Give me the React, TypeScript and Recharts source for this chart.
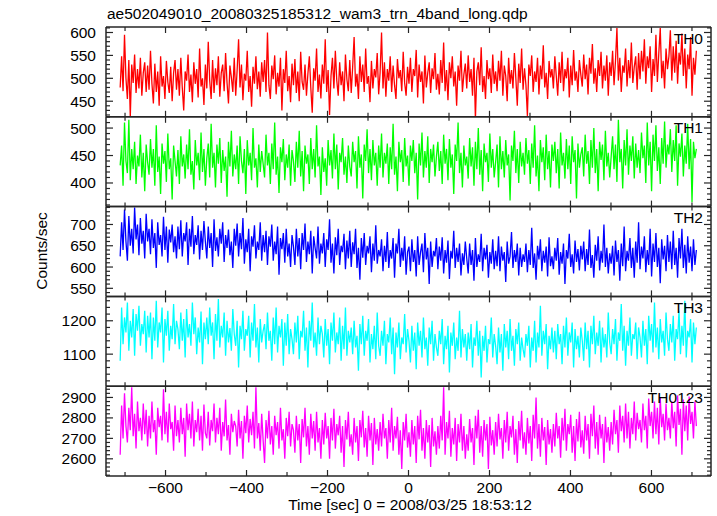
import React from 'react';
import { LineChart, Line, XAxis, YAxis } from 'recharts';

// Light-curve bins (sec from 2008/03/25 18:53:12)
const START = -712;
const BIN = 3.566;

const TH0 = [
  480, 548, 472, 595, 500, 455, 540, 415, 530, 490, 552, 468, 520, 478, 545, 462, 512, 535, 470, 528,
  475, 560, 488, 445, 532, 470, 515, 440, 548, 482, 505, 455, 538, 492, 468, 525, 450, 512, 540, 475,
  520, 462, 545, 480, 430, 515, 495, 552, 470, 508, 448, 535, 488, 520, 458, 565, 482, 500, 442, 530,
  478, 580, 495, 455, 540, 468, 522, 485, 548, 460, 512, 530, 472, 555, 490, 445, 528, 502, 470, 545,
  462, 518, 585, 480, 530, 452, 510, 495, 560, 470, 505, 438, 525, 488, 548, 476, 515, 460, 535, 492,
  540, 470, 600, 485, 455, 528, 498, 550, 465, 512, 482, 545, 430, 520, 490, 560, 472, 505, 448, 532,
  485, 542, 468, 515, 450, 558, 492, 475, 530, 462, 510, 548, 480, 425, 522, 495, 565, 470, 508, 456,
  530, 488, 585, 470, 518, 420, 505, 545, 478, 560, 495, 462, 535, 485, 515, 450, 552, 498, 472, 540,
  468, 525, 590, 482, 510, 455, 548, 492, 530, 470, 565, 488, 505, 448, 538, 478, 520, 502, 555, 465,
  512, 600, 478, 535, 460, 520, 495, 548, 470, 528, 485, 455, 542, 500, 518, 472, 558, 490, 462, 525,
  488, 545, 470, 520, 505, 562, 458, 530, 492, 515, 445, 550, 480, 512, 535, 468, 522, 498, 555, 475,
  510, 465, 540, 490, 578, 472, 518, 452, 535, 500, 548, 482, 515, 440, 528, 495, 560, 470, 508, 532,
  478, 550, 492, 520, 462, 545, 410, 515, 535, 485, 568, 470, 505, 455, 540, 498, 522, 468, 552, 488,
  515, 472, 538, 495, 560, 462, 528, 505, 450, 545, 488, 518, 478, 555, 500, 440, 532, 490, 565, 475,
  522, 485, 418, 530, 505, 550, 470, 515, 492, 545, 465, 528, 498, 572, 480, 512, 455, 538, 502, 520,
  478, 548, 505, 462, 535, 490, 558, 472, 520, 500, 545, 458, 528, 485, 562, 495, 515, 470, 540, 508,
  482, 552, 498, 530, 465, 545, 510, 575, 488, 522, 470, 540, 505, 558, 478, 528, 495, 550, 462, 535,
  505, 560, 485, 538, 610, 495, 545, 470, 528, 512, 565, 482, 540, 500, 578, 490, 525, 548, 475, 555,
  498, 560, 515, 585, 488, 548, 522, 570, 470, 542, 505, 595, 492, 555, 610, 500, 538, 478, 565, 520,
  548, 605, 495, 570, 512, 582, 488, 556, 530, 598, 505, 565, 478, 552, 520, 590, 462, 545, 508, 560,
];

const TH1 = [
  432, 468, 395, 510, 440, 418, 515, 405, 462, 425, 475, 398, 450, 430, 488, 410, 455, 385, 470, 438,
  415, 480, 428, 462, 395, 505, 420, 448, 380, 472, 435, 458, 402, 490, 425, 445, 370, 468, 440, 412,
  460, 398, 485, 430, 452, 408, 470, 425, 498, 415, 440, 388, 478, 432, 455, 405, 492, 420, 462, 395,
  445, 472, 410, 508, 428, 455, 392, 470, 435, 482, 400, 460, 422, 448, 375, 475, 430, 495, 412, 452,
  425, 468, 398, 485, 440, 418, 462, 380, 478, 432, 455, 405, 500, 428, 445, 392, 470, 420, 458, 435,
  410, 488, 432, 455, 398, 472, 425, 510, 415, 448, 382, 465, 438, 480, 405, 452, 428, 470, 395, 460,
  440, 402, 475, 428, 495, 412, 458, 385, 468, 435, 452, 398, 482, 425, 462, 410, 505, 430, 448, 378,
  465, 420, 445, 395, 478, 432, 460, 408, 490, 425, 470, 388, 455, 438, 482, 415, 448, 400, 468, 430,
  412, 475, 438, 458, 390, 485, 428, 452, 372, 470, 440, 498, 418, 462, 405, 478, 432, 455, 395, 468,
  428, 490, 410, 455, 435, 472, 398, 465, 425, 508, 415, 448, 385, 475, 438, 460, 402, 482, 430, 450,
  395, 468, 440, 478, 418, 455, 370, 472, 432, 492, 410, 458, 428, 485, 400, 462, 438, 470, 412, 448,
  475, 422, 458, 398, 488, 435, 462, 405, 480, 428, 452, 380, 470, 440, 510, 418, 455, 392, 468, 432,
  448, 408, 482, 430, 465, 395, 475, 425, 500, 415, 460, 385, 472, 438, 455, 402, 490, 428, 462, 410,
  438, 470, 392, 485, 425, 458, 410, 478, 432, 452, 368, 468, 440, 495, 418, 462, 400, 475, 430, 455,
  415, 482, 435, 460, 398, 472, 428, 505, 412, 450, 385, 478, 438, 465, 405, 488, 425, 458, 392, 470,
  440, 475, 418, 462, 390, 492, 432, 455, 408, 480, 425, 468, 398, 485, 438, 460, 372, 472, 428, 452,
  465, 412, 488, 435, 458, 398, 478, 428, 500, 418, 462, 385, 475, 442, 470, 405, 495, 430, 455, 410,
  448, 485, 425, 470, 402, 515, 438, 462, 390, 478, 432, 498, 415, 468, 440, 485, 408, 472, 428, 460,
  418, 492, 445, 468, 400, 510, 432, 475, 385, 488, 440, 505, 422, 465, 398, 482, 435, 512, 428, 470,
  452, 498, 420, 478, 440, 505, 395, 472, 448, 490, 412, 468, 435, 508, 425, 480, 365, 475, 445, 462,
];

const TH2 = [
  625, 705, 640, 735, 660, 615, 720, 650, 690, 632, 740, 665, 700, 628, 715, 655, 685, 620, 725, 660,
  690, 630, 712, 645, 680, 598, 705, 652, 675, 625, 718, 640, 695, 610, 688, 658, 700, 635, 672, 620,
  695, 642, 710, 625, 680, 660, 705, 605, 690, 648, 720, 630, 675, 652, 698, 618, 685, 640, 708, 660,
  620, 695, 645, 680, 600, 712, 638, 670, 625, 690, 655, 705, 612, 675, 645, 688, 628, 660, 598, 690,
  650, 702, 625, 680, 642, 715, 608, 665, 635, 690, 590, 672, 648, 698, 620, 660, 640, 705, 615, 675,
  635, 685, 605, 672, 648, 700, 615, 660, 630, 695, 582, 668, 642, 680, 610, 690, 625, 655, 600, 675,
  648, 605, 690, 625, 668, 595, 680, 640, 702, 612, 660, 630, 685, 585, 672, 645, 620, 695, 608, 655,
  632, 680, 600, 665, 640, 712, 610, 655, 585, 670, 628, 690, 605, 650, 635, 678, 595, 662, 620, 685,
  600, 658, 630, 690, 598, 645, 570, 668, 622, 680, 605, 650, 632, 672, 588, 655, 615, 698, 608, 640,
  625, 665, 590, 650, 612, 682, 598, 640, 620, 668, 575, 655, 632, 690, 600, 645, 615, 672, 582, 635,
  648, 590, 665, 612, 640, 578, 672, 605, 635, 655, 588, 680, 618, 645, 560, 660, 600, 638, 625, 668,
  595, 648, 615, 670, 585, 640, 610, 662, 572, 638, 620, 685, 598, 645, 612, 655, 580, 632, 605, 660,
  620, 585, 655, 605, 640, 568, 668, 600, 630, 612, 678, 590, 645, 618, 652, 575, 635, 608, 665, 595,
  638, 602, 672, 590, 648, 615, 635, 565, 660, 608, 625, 682, 598, 640, 612, 655, 580, 645, 600, 630,
  612, 655, 588, 640, 605, 692, 598, 632, 570, 650, 618, 665, 590, 638, 610, 648, 578, 670, 602, 625,
  595, 645, 615, 668, 582, 635, 608, 655, 560, 640, 620, 678, 600, 630, 585, 662, 612, 642, 592, 650,
  618, 660, 590, 642, 605, 688, 598, 628, 575, 652, 615, 672, 592, 638, 610, 700, 600, 645, 585, 632,
  608, 650, 580, 662, 612, 640, 568, 655, 602, 695, 590, 638, 615, 668, 598, 645, 575, 660, 610, 705,
  595, 648, 620, 672, 588, 640, 605, 690, 578, 655, 612, 680, 600, 645, 562, 665, 618, 650, 590, 675,
  612, 660, 595, 685, 605, 645, 575, 668, 620, 690, 598, 652, 585, 672, 610, 648, 590, 665, 605, 640,
];

const TH3 = [
  1080, 1240, 1130, 1210, 1165, 1255, 1110, 1200, 1150, 1235, 1095, 1220, 1170, 1245, 1125, 1190, 1160, 1230, 1105, 1215,
  1150, 1225, 1085, 1210, 1140, 1260, 1120, 1195, 1165, 1240, 1075, 1205, 1155, 1230, 1110, 1185, 1145, 1250, 1130, 1200,
  1175, 1115, 1225, 1140, 1205, 1090, 1235, 1150, 1190, 1125, 1255, 1160, 1210, 1100, 1180, 1135, 1228, 1070, 1195, 1145,
  1210, 1130, 1240, 1155, 1195, 1085, 1220, 1140, 1265, 1120, 1185, 1150, 1225, 1095, 1200, 1135, 1178, 1110, 1235, 1160,
  1125, 1200, 1060, 1185, 1145, 1230, 1110, 1175, 1155, 1215, 1090, 1195, 1140, 1250, 1120, 1180, 1075, 1205, 1135, 1170,
  1190, 1115, 1225, 1140, 1170, 1080, 1210, 1130, 1240, 1105, 1185, 1150, 1205, 1065, 1195, 1125, 1220, 1100, 1175, 1145,
  1100, 1195, 1135, 1215, 1085, 1170, 1150, 1230, 1110, 1180, 1060, 1200, 1140, 1255, 1120, 1165, 1095, 1210, 1130, 1185,
  1160, 1090, 1205, 1125, 1175, 1070, 1195, 1140, 1225, 1105, 1165, 1130, 1210, 1080, 1185, 1115, 1240, 1095, 1170, 1135,
  1180, 1100, 1200, 1120, 1155, 1050, 1190, 1130, 1215, 1095, 1170, 1140, 1205, 1075, 1160, 1115, 1185, 1085, 1225, 1125,
  1095, 1170, 1125, 1200, 1070, 1160, 1135, 1210, 1100, 1180, 1040, 1165, 1120, 1195, 1085, 1150, 1130, 1220, 1105, 1175,
  1140, 1075, 1185, 1110, 1165, 1055, 1195, 1125, 1170, 1090, 1210, 1115, 1150, 1065, 1180, 1130, 1200, 1080, 1160, 1120,
  1095, 1170, 1130, 1205, 1070, 1155, 1115, 1185, 1045, 1165, 1125, 1195, 1085, 1150, 1110, 1230, 1090, 1175, 1120, 1160,
  1080, 1165, 1115, 1190, 1060, 1150, 1125, 1200, 1095, 1170, 1030, 1155, 1110, 1185, 1075, 1145, 1130, 1210, 1090, 1160,
  1125, 1070, 1180, 1105, 1160, 1050, 1190, 1120, 1170, 1085, 1205, 1110, 1155, 1065, 1175, 1130, 1195, 1080, 1150, 1115,
  1090, 1160, 1125, 1185, 1060, 1150, 1110, 1200, 1075, 1165, 1120, 1245, 1095, 1170, 1130, 1190, 1055, 1155, 1115, 1180,
  1105, 1170, 1085, 1190, 1130, 1160, 1070, 1185, 1120, 1210, 1095, 1165, 1135, 1195, 1060, 1175, 1115, 1155, 1090, 1180,
  1140, 1080, 1195, 1115, 1170, 1060, 1185, 1130, 1215, 1100, 1165, 1125, 1200, 1075, 1180, 1120, 1160, 1090, 1225, 1135,
  1100, 1175, 1130, 1205, 1080, 1165, 1140, 1250, 1110, 1185, 1065, 1170, 1125, 1210, 1095, 1160, 1145, 1195, 1085, 1180,
  1150, 1090, 1200, 1125, 1175, 1070, 1215, 1140, 1190, 1105, 1255, 1120, 1180, 1085, 1205, 1135, 1170, 1095, 1225, 1145,
  1110, 1190, 1135, 1215, 1080, 1175, 1145, 1230, 1100, 1185, 1125, 1260, 1090, 1170, 1150, 1205, 1075, 1195, 1130, 1180,
];

const TH0123 = [
  2620, 2860, 2700, 2920, 2760, 2680, 2850, 2740, 2950, 2710, 2820, 2650, 2880, 2735, 2800, 2690, 2870, 2720, 2840, 2660,
  2810, 2700, 2880, 2730, 2790, 2620, 2850, 2755, 2810, 2690, 2940, 2720, 2830, 2680, 2870, 2745, 2780, 2640, 2860, 2710,
  2790, 2680, 2850, 2720, 2800, 2610, 2870, 2740, 2820, 2700, 2880, 2660, 2790, 2730, 2845, 2690, 2810, 2640, 2865, 2725,
  2700, 2830, 2665, 2790, 2735, 2870, 2680, 2800, 2720, 2850, 2640, 2780, 2710, 2890, 2690, 2765, 2620, 2820, 2730, 2785,
  2760, 2660, 2840, 2700, 2785, 2600, 2810, 2725, 2860, 2680, 2795, 2715, 2830, 2650, 2950, 2700, 2775, 2640, 2820, 2690,
  2580, 2790, 2700, 2835, 2670, 2760, 2620, 2810, 2715, 2780, 2650, 2850, 2690, 2745, 2600, 2800, 2710, 2830, 2660, 2770,
  2740, 2630, 2810, 2690, 2770, 2580, 2795, 2705, 2850, 2660, 2760, 2620, 2820, 2700, 2785, 2640, 2830, 2680, 2750, 2600,
  2790, 2670, 2825, 2700, 2760, 2600, 2800, 2690, 2845, 2650, 2770, 2715, 2810, 2630, 2760, 2560, 2790, 2695, 2830, 2660,
  2720, 2620, 2800, 2680, 2760, 2590, 2790, 2705, 2835, 2655, 2750, 2610, 2810, 2690, 2775, 2570, 2800, 2670, 2745, 2640,
  2780, 2660, 2820, 2700, 2750, 2600, 2790, 2680, 2850, 2640, 2760, 2700, 2805, 2620, 2740, 2550, 2780, 2690, 2820, 2655,
  2730, 2610, 2790, 2670, 2760, 2580, 2810, 2695, 2840, 2640, 2750, 2600, 2790, 2680, 2765, 2560, 2800, 2660, 2735, 2620,
  2760, 2650, 2810, 2690, 2950, 2620, 2780, 2700, 2835, 2610, 2750, 2670, 2800, 2590, 2770, 2680, 2820, 2640, 2760, 2600,
  2720, 2640, 2795, 2680, 2750, 2570, 2810, 2700, 2840, 2630, 2760, 2610, 2790, 2690, 2770, 2550, 2805, 2665, 2740, 2620,
  2780, 2660, 2820, 2695, 2750, 2600, 2790, 2680, 2830, 2640, 2760, 2705, 2810, 2620, 2745, 2580, 2785, 2690, 2835, 2650,
  2730, 2620, 2800, 2675, 2760, 2590, 2815, 2700, 2900, 2650, 2770, 2610, 2800, 2690, 2755, 2570, 2790, 2670, 2745, 2630,
  2770, 2660, 2825, 2700, 2760, 2605, 2800, 2690, 2845, 2640, 2770, 2720, 2815, 2630, 2760, 2590, 2795, 2685, 2830, 2655,
  2740, 2625, 2810, 2690, 2770, 2600, 2820, 2710, 2860, 2650, 2780, 2620, 2815, 2700, 2770, 2580, 2805, 2680, 2755, 2640,
  2780, 2670, 2840, 2720, 2790, 2630, 2860, 2735, 2810, 2680, 2870, 2700, 2830, 2650, 2800, 2720, 2880, 2690, 2825, 2745,
  2790, 2680, 2870, 2740, 2810, 2650, 2895, 2760, 2830, 2700, 2880, 2720, 2850, 2670, 2900, 2755, 2820, 2690, 2870, 2740,
  2800, 2700, 2880, 2750, 2830, 2660, 2910, 2765, 2845, 2620, 2890, 2735, 2860, 2690, 2905, 2770, 2830, 2700, 2880, 2760,
];

const X_DOMAIN: [number, number] = [-747, 747];
const X_TICKS = [-700, -600, -500, -400, -300, -200, -100, 0, 100, 200, 300, 400, 500, 600, 700];
const X_LABEL_STEP = 200;

const TITLE = 'ae502049010_20080325185312_wam3_trn_4band_long.qdp';
const X_TITLE = 'Time [sec] 0 = 2008/03/25 18:53:12';
const Y_TITLE = 'Counts/sec';

const W = 717;
const H = 516;
const PLOT_LEFT = 106;
const PLOT_RIGHT = 711;
const PLOT_TOP = 27;
const PLOT_BOTTOM = 476;
const AX = '#262626';
const FONT = '"Liberation Sans", Arial, Helvetica, sans-serif';
const FS = 15.5;

function range(lo: number, hi: number, step: number) {
  const out: number[] = [];
  for (let v = Math.ceil(lo / step) * step; v <= hi + 1e-9; v += step) out.push(v);
  return out;
}

const PANELS = [
  { name: 'TH0', color: '#ff0000', values: TH0, domain: [416, 612], labelStep: 50, minorStep: 10 },
  { name: 'TH1', color: '#00ff00', values: TH1, domain: [357, 520.5], labelStep: 50, minorStep: 10 },
  { name: 'TH2', color: '#0000ff', values: TH2, domain: [531, 742], labelStep: 50, minorStep: 10 },
  { name: 'TH3', color: '#00ffff', values: TH3, domain: [1004, 1273], labelStep: 100, minorStep: 20 },
  { name: 'TH0123', color: '#ff00ff', values: TH0123, domain: [2516, 2955], labelStep: 100, minorStep: 20 },
];

const fmt = (v: number) => (v < 0 ? '\u2212' + Math.abs(v) : String(v));

function Panel({ idx }: { idx: number }) {
  const p = PANELS[idx];
  const ph = (PLOT_BOTTOM - PLOT_TOP) / PANELS.length;
  const top = PLOT_TOP + idx * ph;
  const bottom = top + ph;
  const isLast = idx === PANELS.length - 1;
  const data = p.values.map((v, i) => ({ t: START + i * BIN, v }));
  const yTicks = range(p.domain[0], p.domain[1], p.minorStep);
  const isMajorY = (v: number) => Math.abs(v % p.labelStep) < 1e-6;
  const isMajorX = (v: number) => Math.abs(v % X_LABEL_STEP) < 1e-6;

  const bottomTick = (props: any) => {
    const { x, y, payload } = props;
    const major = isMajorX(payload.value);
    return (
      <g>
        <line x1={x} y1={y} x2={x} y2={y - (major ? 6 : 4)} stroke={AX} strokeWidth={1.2} />
        {isLast && major ? (
          <text x={x} y={y + 17} textAnchor="middle" fontSize={FS} fontFamily={FONT} fill="#000">
            {fmt(payload.value)}
          </text>
        ) : null}
      </g>
    );
  };
  const topTick = (props: any) => {
    const { x, y, payload } = props;
    const major = isMajorX(payload.value);
    return <line x1={x} y1={y} x2={x} y2={y + (major ? 6 : 4)} stroke={AX} strokeWidth={1.2} />;
  };
  const leftTick = (props: any) => {
    const { x, y, payload } = props;
    const major = isMajorY(payload.value);
    return (
      <g>
        <line x1={x} y1={y} x2={x + (major ? 7 : 4)} y2={y} stroke={AX} strokeWidth={1.2} />
        {major ? (
          <text x={x - 10} y={y + 5.5} textAnchor="end" fontSize={FS} fontFamily={FONT} fill="#000">
            {fmt(payload.value)}
          </text>
        ) : null}
      </g>
    );
  };
  const rightTick = (props: any) => {
    const { x, y, payload } = props;
    const major = isMajorY(payload.value);
    return <line x1={x} y1={y} x2={x - (major ? 7 : 4)} y2={y} stroke={AX} strokeWidth={1.2} />;
  };

  const axisLine = { stroke: AX, strokeWidth: 1.5 };

  return (
    <div style={{ position: 'absolute', left: 0, top: 0 }}>
      <LineChart
        width={W}
        height={H}
        data={data}
        margin={{ top: top - 1, bottom: H - bottom - 1, left: PLOT_LEFT - 1, right: W - PLOT_RIGHT - 1 }}
      >
        <XAxis
          xAxisId="b"
          dataKey="t"
          type="number"
          domain={X_DOMAIN}
          allowDataOverflow
          ticks={X_TICKS}
          interval={0}
          height={1}
          tickSize={0}
          tickMargin={0}
          tickLine={false}
          axisLine={axisLine}
          tick={bottomTick}
        />
        <XAxis
          xAxisId="t"
          orientation="top"
          dataKey="t"
          type="number"
          domain={X_DOMAIN}
          allowDataOverflow
          ticks={X_TICKS}
          interval={0}
          height={1}
          tickSize={0}
          tickMargin={0}
          tickLine={false}
          axisLine={axisLine}
          tick={topTick}
        />
        <YAxis
          yAxisId="l"
          type="number"
          domain={p.domain}
          allowDataOverflow
          ticks={yTicks}
          interval={0}
          width={1}
          tickSize={0}
          tickMargin={0}
          tickLine={false}
          axisLine={axisLine}
          tick={leftTick}
        />
        <YAxis
          yAxisId="r"
          orientation="right"
          type="number"
          domain={p.domain}
          allowDataOverflow
          ticks={yTicks}
          interval={0}
          width={1}
          tickSize={0}
          tickMargin={0}
          tickLine={false}
          axisLine={axisLine}
          tick={rightTick}
        />
        <Line
          xAxisId="t"
          yAxisId="r"
          dataKey="v"
          stroke="none"
          dot={false}
          isAnimationActive={false}
        />
        <Line
          xAxisId="b"
          yAxisId="l"
          type="linear"
          dataKey="v"
          stroke={p.color}
          strokeWidth={1.3}
          dot={false}
          isAnimationActive={false}
        />
      </LineChart>
      <svg width={W} height={H} style={{ position: 'absolute', left: 0, top: 0, pointerEvents: 'none' }}>
        <text x={703} y={top + 16.5} textAnchor="end" fontSize={FS} fontFamily={FONT} fill="#000">
          {p.name}
        </text>
      </svg>
    </div>
  );
}

export default function App() {
  return (
    <div style={{ position: 'absolute', left: 0, top: 0, width: W, height: H, background: '#fff' }}>
      {PANELS.map((_, i) => (
        <Panel key={i} idx={i} />
      ))}
      <svg width={W} height={H} style={{ position: 'absolute', left: 0, top: 0, pointerEvents: 'none' }}>
        <text x={107} y={19} fontSize={FS} fontFamily={FONT} fill="#000">
          {TITLE}
        </text>
        <text x={410} y={510} textAnchor="middle" fontSize={FS} fontFamily={FONT} fill="#000">
          {X_TITLE}
        </text>
        <text
          x={0}
          y={0}
          transform="translate(47 251) rotate(-90)"
          textAnchor="middle"
          fontSize={FS}
          fontFamily={FONT}
          fill="#000"
        >
          {Y_TITLE}
        </text>
      </svg>
    </div>
  );
}
